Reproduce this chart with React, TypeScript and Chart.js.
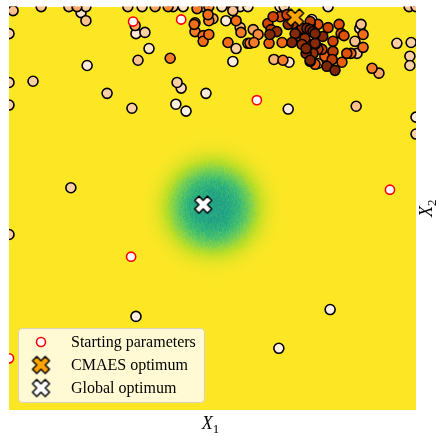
import React, { useEffect, useRef } from "react";
import { Chart, registerables } from "chart.js";

Chart.register(...registerables);

// Search domain of the two parameters
const X_RANGE = [0, 10];
const Y_RANGE = [0, 10];

// Samples evaluated by the optimizer (x, y, generation index)
const sampleX = [
  0.05, 0.79, 1.47, 1.67, 1.89, 2.92, 3.27, 3.59, 3.91, 4.03, 4.28, 4.79, 4.91, 5.23, 5.5, 5.68, 5.87, 6.66, 6.76, 7.84, 9.83, 10,
  0, 0, 0, 0, 0.1, 0.59, 1.77, 1.89, 5.5,
  3.1, 3.12, 3.34, 3.44, 3.17, 3.96, 1.92, 2.41, 3.02, 4.13, 4.23, 4.84, 4.1, 4.35, 1.52,
  4.62, 4.55, 4.57, 4.57, 4.77, 4.77, 4.91, 4.89, 4.91, 5.01,
  5.33, 5.58, 5.68, 5.7, 6.0, 6.12, 5.38, 5.58, 5.87, 5.92, 6.02, 5.5,
  6.39, 6.71, 6.51, 6.73, 6.88, 6.86,
  6.36, 6.41, 6.44, 6.49, 6.66, 6.58, 6.83, 6.86, 6.98, 7.03, 6.95, 7.15, 7.27, 7.4, 7.32, 7.47, 7.3, 7.4, 7.52, 7.2, 7.59, 7.4, 7.52,
  7.2, 7.4, 7.59, 7.4, 7.52, 7.71, 7.32, 7.52, 7.64, 7.3, 7.47, 7.69, 7.96, 7.4, 7.59, 7.81, 7.94, 7.76, 7.44,
  7.84, 8.11, 8.16, 8.23, 7.96, 8.5, 8.7, 8.55, 8.4, 8.3, 8.18, 8.01, 8.65, 8.62, 8.7, 8.92, 9.09, 9.53, 9.88, 9.85, 9.85, 8.53, 10, 10,
  3.12, 7.89, 6.63,
];
const sampleY = [
  10, 10, 10, 10, 10, 10, 10, 10, 10, 10, 10, 10, 10, 10, 10, 10, 10, 10, 10, 10, 10, 10,
  9.33, 8.12, 7.56, 4.35, 9.9, 8.15, 9.85, 9.65, 9.9,
  9.53, 9.33, 9.36, 8.96, 8.67, 8.72, 8.54, 7.85, 7.48, 8.12, 7.98, 7.85, 7.58, 7.41, 5.51,
  9.95, 9.56, 9.6, 9.38, 9.28, 9.14, 9.31, 9.8, 9.65, 9.7,
  9.65, 9.65, 9.48, 9.36, 9.43, 9.31, 9.11, 8.96, 9.09, 9.09, 9.11, 8.64,
  9.09, 9.11, 8.69, 8.67, 8.62, 7.46,
  9.58, 9.31, 9.43, 9.75, 9.75, 9.38, 9.8, 9.56, 9.58, 9.33, 9.11, 9.26, 9.21, 9.63, 9.46, 9.38, 8.96, 8.89, 9.09, 9.06, 8.94, 8.64, 8.57,
  9.46, 9.56, 9.56, 9.43, 9.33, 9.26, 9.09, 9.06, 8.96, 8.84, 8.84, 8.94, 8.89, 8.67, 8.59, 8.52, 8.69, 8.77, 9.68,
  9.48, 9.56, 9.33, 9.28, 9.14, 9.14, 8.99, 8.84, 8.84, 8.84, 8.62, 8.42, 9.56, 9.46, 9.31, 8.47, 8.35, 9.09, 9.11, 8.77, 8.54, 7.53, 7.26, 6.84,
  2.32, 2.49, 1.53,
];
const sampleGen = [
  5, 5, 5, 7, 4, 5, 4, 7, 9, 5, 2, 5, 9, 2, 5, 2, 2, 2, 4, 1, 5, 5,
  4, 4, 4, 4, 5, 4, 2, 5, 5,
  7, 1, 4, 2, 5, 10, 1, 4, 4, 4, 3, 1, 0, 0, 4,
  10, 11, 10, 10, 11, 11, 11, 11, 10, 7,
  1, 11, 6, 10, 7, 9, 11, 4, 5, 10, 10, 0,
  12, 11, 6, 10, 2, 1,
  14, 18, 15, 14, 13, 17, 14, 17, 15, 18, 19, 16, 17, 15, 18, 19, 19, 16, 18, 17, 15, 19, 12,
  17, 14, 13, 18, 19, 18, 15, 17, 11, 18, 17, 14, 15, 20, 7, 19, 15, 12, 2,
  14, 13, 13, 13, 14, 5, 11, 5, 11, 13, 12, 20, 5, 2, 11, 10, 7, 4, 4, 4, 4, 5, 1, 4,
  0, 0, 0,
];

// Initial guesses of the independent runs
const startX = [3.05, 4.23, 6.09, 9.36, 3.0, 0];
const startY = [9.63, 9.68, 7.68, 5.46, 3.8, 1.28];

// Optima
const cmaesOptimum = { x: 7.03, y: 9.73 };
const globalOptimum = { x: 4.77, y: 5.09 };

// Basin of the sampled objective surface
const basinCenter = { x: 5.0, y: 5.02 };
const basinRadius = 1.03;

const legendLabels = ["Starting parameters", "CMAES optimum", "Global optimum"];
const xLabel = { main: "X", sub: "1" };
const yLabel = { main: "X", sub: "2" };

const SERIF = "'Liberation Serif', 'Times New Roman', serif";

// matplotlib-like colormaps
const ORANGES = ["#fff5eb", "#fee6ce", "#fdd0a2", "#fdae6b", "#fd8d3c", "#f16913", "#d94801", "#a63603", "#7f2704"];
const VIRIDIS = ["#440154", "#482475", "#414487", "#355f8d", "#2a788e", "#21918c", "#22a884", "#44bf70", "#7ad151", "#bddf26", "#fde725"];

function hexToRgb(h: string): number[] {
  const n = parseInt(h.slice(1), 16);
  return [(n >> 16) & 255, (n >> 8) & 255, n & 255];
}
const ORANGES_RGB = ORANGES.map(hexToRgb);
const VIRIDIS_RGB = VIRIDIS.map(hexToRgb);

function sampleMap(stops: number[][], t: number): number[] {
  const c = Math.min(1, Math.max(0, t)) * (stops.length - 1);
  const i = Math.min(stops.length - 2, Math.floor(c));
  const f = c - i;
  const a = stops[i];
  const b = stops[i + 1];
  return [a[0] + (b[0] - a[0]) * f, a[1] + (b[1] - a[1]) * f, a[2] + (b[2] - a[2]) * f];
}

function genColor(gen: number): string {
  const [r, g, b] = sampleMap(ORANGES_RGB, Math.min(1, 0.04 + gen * 0.052));
  return `rgb(${Math.round(r)},${Math.round(g)},${Math.round(b)})`;
}

// Deterministic per-pixel jitter for the sampled objective surface
function hashNoise(i: number, j: number): number {
  let h = Math.imul(i, 374761393) + Math.imul(j, 668265263);
  h = Math.imul(h ^ (h >>> 13), 1274126177);
  h = h ^ (h >>> 16);
  return (h >>> 0) / 4294967295;
}

// Filled "X" marker, matplotlib style
function makeXMarker(fill: string, size: number): HTMLCanvasElement {
  const pad = 2;
  const c = document.createElement("canvas");
  c.width = c.height = size + pad * 2;
  const g = c.getContext("2d")!;
  g.translate(c.width / 2, c.height / 2);
  const pts = [
    [-1, -2], [0, -1], [1, -2], [2, -1], [1, 0], [2, 1],
    [1, 2], [0, 1], [-1, 2], [-2, 1], [-1, 0], [-2, -1],
  ];
  g.beginPath();
  pts.forEach(([x, y], i) => {
    const px = (x / 4) * size;
    const py = (y / 4) * size;
    if (i === 0) g.moveTo(px, py);
    else g.lineTo(px, py);
  });
  g.closePath();
  g.fillStyle = fill;
  g.fill();
  g.lineWidth = 1.5;
  g.lineJoin = "round";
  g.strokeStyle = "#000";
  g.stroke();
  return c;
}

export default function App() {
  const canvasRef = useRef<HTMLCanvasElement | null>(null);

  useEffect(() => {
    const canvas = canvasRef.current;
    if (!canvas) return;

    const cmaesMarker = makeXMarker("#ffa500", 17);
    const globalMarker = makeXMarker("#ffffff", 17);

    // draw samples from earliest to latest generation
    const order = sampleGen.map((_, i) => i).sort((a, b) => sampleGen[a] - sampleGen[b]);
    const samples = order.map((i) => ({ x: sampleX[i], y: sampleY[i] }));
    const sampleColors = order.map((i) => genColor(sampleGen[i]));
    const starts = startX.map((x, i) => ({ x, y: startY[i] }));

    const surfacePlugin = {
      id: "objectiveSurface",
      beforeDatasetsDraw(chart: any) {
        const { ctx, chartArea, scales } = chart;
        const w = Math.round(chartArea.right - chartArea.left);
        const h = Math.round(chartArea.bottom - chartArea.top);
        const off = document.createElement("canvas");
        off.width = w;
        off.height = h;
        const g = off.getContext("2d")!;
        const img = g.createImageData(w, h);
        for (let j = 0; j < h; j++) {
          const yv = scales.y.getValueForPixel(chartArea.top + j + 0.5);
          for (let i = 0; i < w; i++) {
            const xv = scales.x.getValueForPixel(chartArea.left + i + 0.5);
            const d = Math.hypot(xv - basinCenter.x, yv - basinCenter.y) / basinRadius;
            const env = Math.exp(-d * d * d);
            const v = 1 - 0.42 * env + (hashNoise(i, j) - 0.5) * 0.12 * env;
            const [r, gg, b] = sampleMap(VIRIDIS_RGB, v);
            const k = (j * w + i) * 4;
            img.data[k] = r;
            img.data[k + 1] = gg;
            img.data[k + 2] = b;
            img.data[k + 3] = 255;
          }
        }
        g.putImageData(img, 0, 0);
        ctx.drawImage(off, chartArea.left, chartArea.top);
      },
    };

    const decorPlugin = {
      id: "legendAndLabels",
      afterDatasetsDraw(chart: any) {
        const { ctx, chartArea } = chart;
        ctx.save();

        // legend frame
        const lx = 18.5, ly = 328.5, lw = 186, lh = 74;
        ctx.beginPath();
        ctx.roundRect(lx, ly, lw, lh, 4);
        ctx.fillStyle = "rgba(255,255,255,0.8)";
        ctx.fill();
        ctx.strokeStyle = "rgba(204,204,204,0.8)";
        ctx.lineWidth = 1;
        ctx.stroke();

        const rows = [342, 365, 388];
        const mx = 41;
        ctx.beginPath();
        ctx.arc(mx, rows[0], 4.5, 0, Math.PI * 2);
        ctx.fillStyle = "#fff";
        ctx.fill();
        ctx.lineWidth = 1.6;
        ctx.strokeStyle = "#ff0000";
        ctx.stroke();
        ctx.drawImage(cmaesMarker, mx - cmaesMarker.width / 2, rows[1] - cmaesMarker.height / 2);
        ctx.drawImage(globalMarker, mx - globalMarker.width / 2, rows[2] - globalMarker.height / 2);

        ctx.fillStyle = "#000";
        ctx.font = `16px ${SERIF}`;
        ctx.textBaseline = "alphabetic";
        ctx.textAlign = "left";
        legendLabels.forEach((t, i) => ctx.fillText(t, 71, rows[i] + 5));

        // axis labels
        const drawLabel = (lab: { main: string; sub: string }, cx: number, base: number) => {
          ctx.font = `italic 18px ${SERIF}`;
          const wm = ctx.measureText(lab.main).width;
          ctx.font = `13px ${SERIF}`;
          const ws = ctx.measureText(lab.sub).width;
          const x0 = cx - (wm + ws) / 2;
          ctx.font = `italic 18px ${SERIF}`;
          ctx.fillText(lab.main, x0, base);
          ctx.font = `13px ${SERIF}`;
          ctx.fillText(lab.sub, x0 + wm, base + 4);
        };
        const midX = (chartArea.left + chartArea.right) / 2;
        const midY = (chartArea.top + chartArea.bottom) / 2;
        drawLabel(xLabel, midX - 2, 429);

        ctx.translate(432, midY);
        ctx.rotate(-Math.PI / 2);
        drawLabel(yLabel, 0, 0);
        ctx.restore();
      },
    };

    const chart = new Chart(canvas, {
      type: "scatter",
      data: {
        datasets: [
          {
            label: "Global optimum",
            data: [globalOptimum],
            pointStyle: globalMarker as any,
            order: 1,
          },
          {
            label: "CMAES optimum",
            data: [cmaesOptimum],
            pointStyle: cmaesMarker as any,
            order: 2,
          },
          {
            label: "Starting parameters",
            data: starts,
            pointRadius: 4.6,
            pointBackgroundColor: "#ffffff",
            pointBorderColor: "#ff0000",
            pointBorderWidth: 1.6,
            clip: 0,
            order: 3,
          },
          {
            label: "Samples",
            data: samples,
            pointRadius: 5,
            pointBackgroundColor: sampleColors,
            pointBorderColor: "#000000",
            pointBorderWidth: 1.6,
            clip: 0,
            order: 4,
          },
        ],
      },
      options: {
        animation: false,
        responsive: false,
        devicePixelRatio: 1,
        layout: { padding: { left: 9, top: 5, right: 20, bottom: 26 } },
        scales: {
          x: { type: "linear", min: X_RANGE[0], max: X_RANGE[1], display: false },
          y: { type: "linear", min: Y_RANGE[0], max: Y_RANGE[1], display: false },
        },
        plugins: {
          legend: { display: false },
          tooltip: { enabled: false },
        },
        events: [],
      },
      plugins: [surfacePlugin, decorPlugin],
    });

    return () => chart.destroy();
  }, []);

  return (
    <div style={{ position: "absolute", left: 0, top: 0, width: 436, height: 436, background: "#fff" }}>
      <canvas ref={canvasRef} width={436} height={436} style={{ display: "block" }} />
    </div>
  );
}
